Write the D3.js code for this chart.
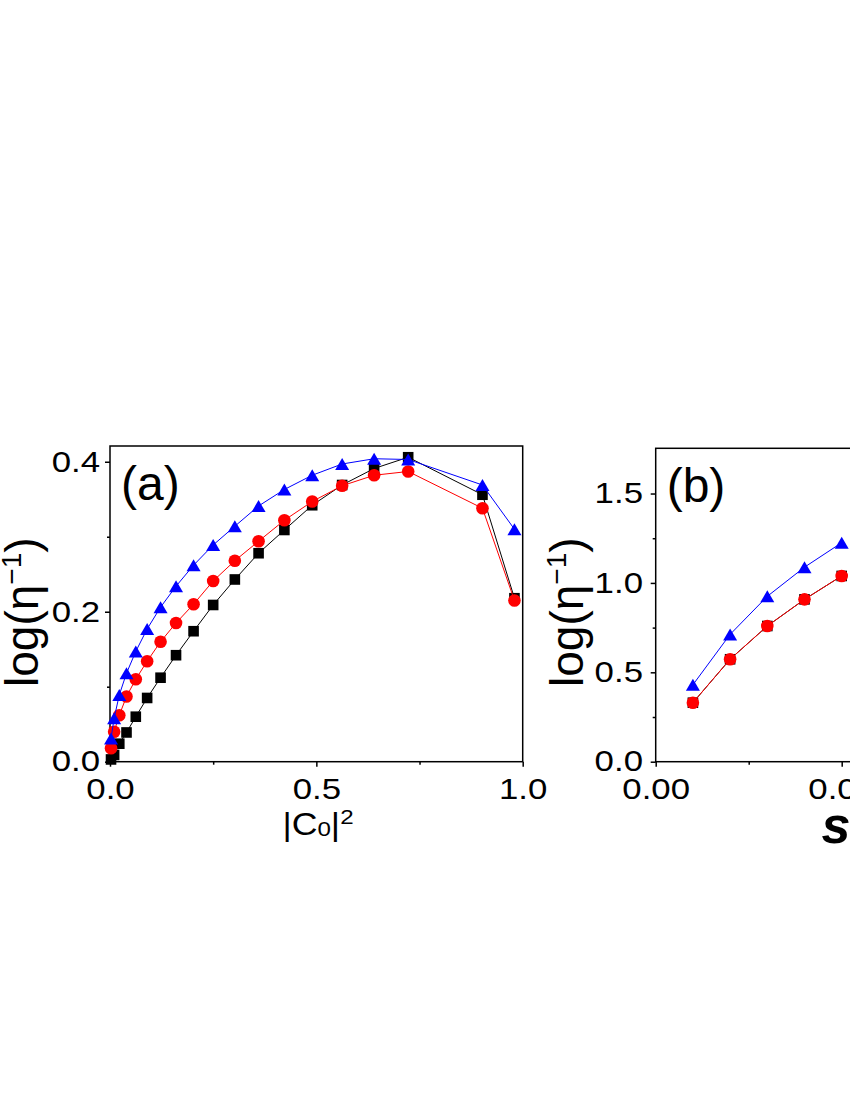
<!DOCTYPE html>
<html>
<head>
<meta charset="utf-8">
<script src="https://cdn.jsdelivr.net/npm/d3@7"></script>
<style>
body { margin: 0; background: #fff; }
svg { display: block; }
text { font-family: "Liberation Sans", Arial, sans-serif; fill: #000; }
</style>
</head>
<body>
<svg></svg>
<script>
let width = 850;
let height = 1100;

// panel (a): log(1/eta) against |C0|^2
let c0sq   = [0.0025, 0.01, 0.0225, 0.04, 0.0625, 0.09, 0.1225, 0.16, 0.2025, 0.25, 0.3025, 0.36, 0.4225, 0.49, 0.5625, 0.64, 0.7225, 0.9025, 0.98];
let blackA = [0.003, 0.009, 0.024, 0.039, 0.060, 0.085, 0.112, 0.142, 0.174, 0.209, 0.243, 0.278, 0.309, 0.342, 0.369, 0.391, 0.406, 0.356, 0.218];
let redA   = [0.018, 0.040, 0.062, 0.087, 0.110, 0.134, 0.160, 0.185, 0.210, 0.241, 0.268, 0.294, 0.322, 0.347, 0.368, 0.382, 0.387, 0.338, 0.215];
let blueA  = [0.031, 0.058, 0.089, 0.118, 0.147, 0.177, 0.206, 0.234, 0.262, 0.289, 0.314, 0.341, 0.363, 0.382, 0.397, 0.404, 0.403, 0.369, 0.310];
let xTicksA = [0, 0.5, 1];
let xMinorA = [0.25, 0.75];
let yTicksA = [0, 0.2, 0.4];
let yMinorA = [0.1, 0.3];

// panel (b): log(1/eta) against s
let sVals  = [0.01, 0.02, 0.03, 0.04, 0.05];
let blackB = [0.330, 0.573, 0.759, 0.908, 1.039];
let redB   = [0.330, 0.573, 0.759, 0.908, 1.039];
let blueB  = [0.430, 0.712, 0.925, 1.088, 1.225];
let xTicksB = [0, 0.05, 0.1];
let xMinorB = [0.025, 0.075];
let yTicksB = [0, 0.5, 1.0, 1.5];
let yMinorB = [0.25, 0.75, 1.25];

let svg = d3.select("svg")
            .attr("width", width)
            .attr("height", height)

svg.append("rect")
    .attr("width", width)
    .attr("height", height)
    .attr("fill", "#fff")

function drawPanel(p) {
    let xScale = d3.scaleLinear().domain(p.xDomain).range([p.left, p.right])
    let yScale = d3.scaleLinear().domain(p.yDomain).range([p.bottom, p.top])
    let g = svg.append("g")

    let styleAxis = sel => {
        sel.select(".domain").remove()
        sel.selectAll("line").attr("stroke", "#000").attr("stroke-width", 1.5)
        sel.selectAll("text")
            .attr("fill", "#000")
            .style("font-size", "29px")
            .style("font-family", "'Liberation Sans', Arial, sans-serif")
            .attr("transform", "scale(1.2,1)")
    }

    g.append("g")
        .attr("transform", "translate(0," + p.bottom + ")")
        .call(d3.axisBottom(xScale).tickValues(p.xTicks).tickSize(5).tickPadding(11.5).tickFormat(d3.format(p.xFmt)))
        .call(styleAxis)
    g.append("g")
        .attr("transform", "translate(0," + p.bottom + ")")
        .call(d3.axisBottom(xScale).tickValues(p.xMinor).tickSize(3).tickFormat(""))
        .call(styleAxis)
    g.append("g")
        .attr("transform", "translate(" + p.left + ",0)")
        .call(d3.axisLeft(yScale).tickValues(p.yTicks).tickSize(5).tickPadding(p.yPad).tickFormat(d3.format(".1f")))
        .call(styleAxis)
    g.append("g")
        .attr("transform", "translate(" + p.left + ",0)")
        .call(d3.axisLeft(yScale).tickValues(p.yMinor).tickSize(3).tickFormat(""))
        .call(styleAxis)

    g.append("rect")
        .attr("x", p.left)
        .attr("y", p.top)
        .attr("width", p.right - p.left)
        .attr("height", p.bottom - p.top)
        .attr("fill", "none")
        .attr("stroke", "#000")
        .attr("stroke-width", 1.5)

    let line = d3.line()
                .x(d => xScale(d[0]))
                .y(d => yScale(d[1]))

    p.series.forEach(s => {
        let pts = p.xs.map((x, i) => [x, s.values[i]])
        g.append("path")
            .datum(pts)
            .attr("d", line)
            .attr("fill", "none")
            .attr("stroke", s.color)
            .attr("stroke-width", 1)

        let marks = g.append("g").selectAll("path").data(pts).enter()
        if (s.shape === "square") {
            marks.append("rect")
                .attr("x", d => xScale(d[0]) - 5.3)
                .attr("y", d => yScale(d[1]) - 5.3)
                .attr("width", 10.6)
                .attr("height", 10.6)
                .attr("fill", s.color)
        } else if (s.shape === "circle") {
            marks.append("circle")
                .attr("cx", d => xScale(d[0]))
                .attr("cy", d => yScale(d[1]))
                .attr("r", 6.3)
                .attr("fill", s.color)
        } else {
            marks.append("path")
                .attr("d", d => {
                    let cx = xScale(d[0]), cy = yScale(d[1])
                    return "M" + cx + "," + (cy - 6) + "L" + (cx + 7) + "," + (cy + 6) + "L" + (cx - 7) + "," + (cy + 6) + "Z"
                })
                .attr("fill", s.color)
        }
    })

    g.append("text")
        .attr("x", p.left + 11)
        .attr("y", p.top + 54)
        .style("font-size", "48px")
        .text(p.tag)

    let yl = g.append("text")
        .attr("transform", "translate(" + p.yLabelX + ",687) rotate(-90)")
        .style("font-size", "46px")
    yl.append("tspan").text("log(η")
    yl.append("tspan").attr("dy", -17).style("font-size", "28px").text("−1")
    yl.append("tspan").attr("dy", 17).text(")")
}

drawPanel({
    tag: "(a)",
    left: 110, right: 522.7, top: 446, bottom: 761.7,
    xDomain: [0, 1], yDomain: [0, 0.421],
    xTicks: xTicksA, xMinor: xMinorA, yTicks: yTicksA, yMinor: yMinorA,
    xFmt: ".1f", yPad: 3.3, yLabelX: 38,
    xs: c0sq,
    series: [
        {values: blackA, color: "#000000", shape: "square"},
        {values: redA, color: "#ff0000", shape: "circle"},
        {values: blueA, color: "#0000ff", shape: "triangle"}
    ]
})

drawPanel({
    tag: "(b)",
    left: 655.7, right: 1027.7, top: 448.3, bottom: 761.7,
    xDomain: [0, 0.1], yDomain: [0, 1.753],
    xTicks: xTicksB, xMinor: xMinorB, yTicks: yTicksB, yMinor: yMinorB,
    xFmt: ".2f", yPad: 5.6, yLabelX: 583,
    xs: sVals,
    series: [
        {values: blackB, color: "#000000", shape: "square"},
        {values: redB, color: "#ff0000", shape: "circle"},
        {values: blueB, color: "#0000ff", shape: "triangle"}
    ]
})

// x axis titles
let xlA = svg.append("text")
    .attr("transform", "translate(318,835) scale(1.15,1)")
    .attr("text-anchor", "middle")
    .style("font-size", "31px")
xlA.append("tspan").text("|C")
xlA.append("tspan").attr("dy", 1).style("font-size", "21px").text("0")
xlA.append("tspan").attr("dy", -1).text("|")
xlA.append("tspan").attr("dy", -11).style("font-size", "21px").text("2")

svg.append("text")
    .attr("x", 836)
    .attr("y", 843)
    .attr("text-anchor", "middle")
    .style("font-size", "52px")
    .style("font-weight", "bold")
    .style("font-style", "italic")
    .text("s")
</script>
</body>
</html>
